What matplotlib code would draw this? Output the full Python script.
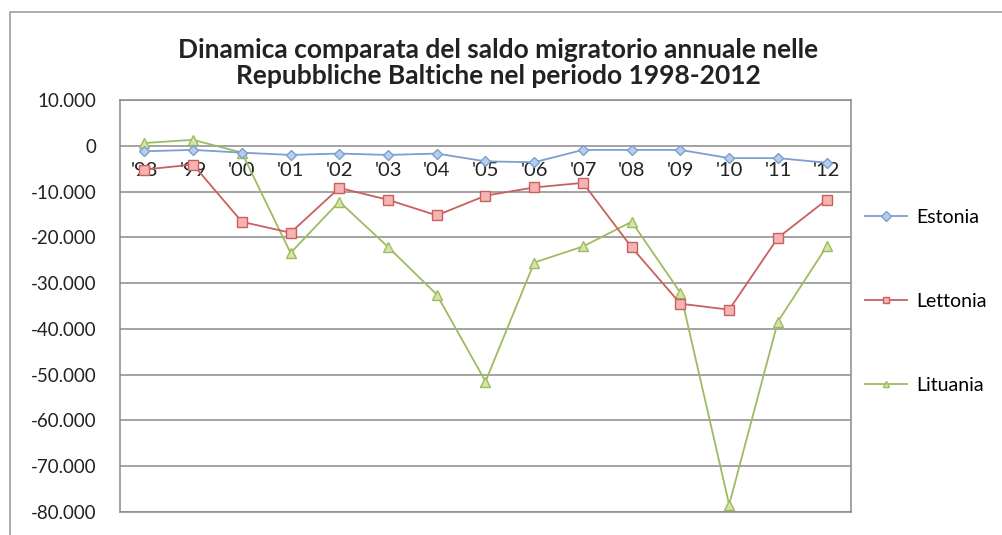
import matplotlib.pyplot as plt
from matplotlib.patches import Rectangle
from matplotlib.ticker import FuncFormatter

plt.rcParams['font.family'] = ['Lato', 'DejaVu Sans']

anni = ["'98", "'99", "'00", "'01", "'02", "'03", "'04", "'05",
        "'06", "'07", "'08", "'09", "'10", "'11", "'12"]

estonia = [-1200, -900, -1500, -2000, -1700, -2000, -1700, -3400,
           -3600, -900, -900, -900, -2700, -2700, -3700]
lettonia = [-5200, -4100, -16600, -19000, -9200, -11800, -15200, -10900,
            -9100, -8100, -22200, -34500, -35800, -20100, -11800]
lituania = [600, 1300, -1500, -23400, -12200, -22100, -32500, -51500,
            -25500, -22000, -16600, -32100, -78400, -38400, -22000]

titolo = "Dinamica comparata del saldo migratorio annuale nelle\nRepubbliche Baltiche nel periodo 1998-2012"

fig = plt.figure(figsize=(10.03, 5.35), dpi=100)

# cornice esterna del grafico
fig.patches.append(Rectangle((10 / 1003, -0.1), 1.2, 1 - 12 / 535 + 0.1,
                             transform=fig.transFigure, fill=False,
                             edgecolor='#a0a0a0', linewidth=1.2))

ax = fig.add_axes([120 / 1003, 1 - 512 / 535, 731 / 1003, 412 / 535])

x = list(range(len(anni)))
ax.plot(x, estonia, color='#7a9fd0', lw=1.3, marker='D', ms=5.5,
        mfc='#b9cdea', mec='#7a9fd0', mew=1, label='Estonia', zorder=4)
ax.plot(x, lettonia, color='#c9605e', lw=1.3, marker='s', ms=7.5,
        mfc='#f5b3b2', mec='#c9605e', mew=1, label='Lettonia', zorder=3)
ax.plot(x, lituania, color='#9dbb61', lw=1.3, marker='^', ms=7,
        mfc='#d3e6a8', mec='#9dbb61', mew=1, label='Lituania', zorder=2)

ax.set_xlim(-0.5, len(anni) - 0.5)
ax.set_ylim(-80000, 10000)
ax.set_yticks(range(-80000, 10001, 10000))
ax.yaxis.set_major_formatter(FuncFormatter(lambda v, p: f"{int(v):,}".replace(",", ".")))
ax.tick_params(axis='y', length=0, labelsize=13.5, colors='#222222', pad=17)
ax.set_xticks([])
ax.grid(axis='y', color='#8a8a8a', lw=1.1)
ax.set_axisbelow(True)
for s in ax.spines.values():
    s.set_color('#8a8a8a')
    s.set_linewidth(1.1)

# etichette degli anni accanto all'asse dello zero
for i, a in enumerate(anni):
    ax.annotate(a, (i, 0), xytext=(0, -12), textcoords='offset points',
                ha='center', va='top', fontsize=14.5, color='#222222', zorder=1)

fig.text(498 / 1003, 1 - 63 / 535, titolo, ha='center', va='center',
         fontsize=19, fontweight='bold', color='#222222', linespacing=1.12)

leg = fig.legend(loc='upper left', bbox_to_anchor=(865 / 1003, 1 - 209 / 535),
                 frameon=False, fontsize=14, labelspacing=3.45, handlelength=2.15,
                 handletextpad=0.5, borderpad=0, borderaxespad=0)
for h in leg.legend_handles:
    h.set_markersize(5)

fig.savefig('out.png', dpi=100)
